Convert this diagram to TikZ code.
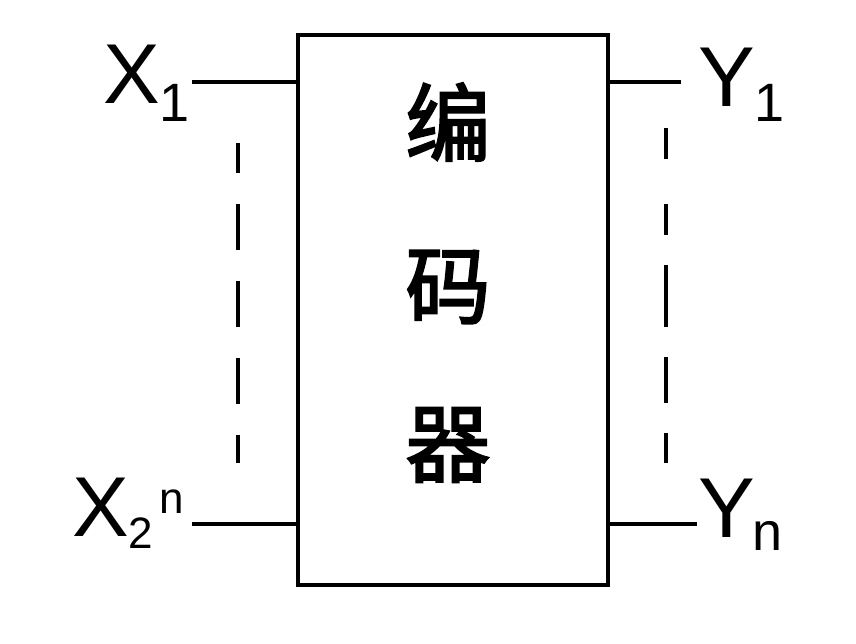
\documentclass[tikz,border=0pt]{standalone}
\usepackage{fontspec}
\setmainfont{Liberation Sans}
\newfontfamily\cjk[FakeBold=2.5]{Noto Sans CJK SC}
\usetikzlibrary{positioning}
\newcommand{\idx}[3]{\raisebox{#1}{\fontsize{#2}{#2}\selectfont #3}}

\begin{document}
\begin{tikzpicture}[x=1pt,y=-1pt,wire/.style={line width=4pt},lbl/.style={anchor=base west,inner sep=0pt,font=\fontsize{85}{85}\selectfont},hz/.style={inner sep=0pt,font=\cjk\fontsize{85}{85}\selectfont}]
\useasboundingbox (0,0) rectangle (856,644);
\node[draw,line width=4pt,minimum width=310pt,minimum height=550pt,inner sep=0pt] (enc) at (453,310) {};
\node[hz] (c1) at (448,122) {编};
\node[hz] (c2) at (448,287) {码};
\node[hz] (c3) at (448,445) {器};
\node[lbl] (x1) at (103,104) {X\kern0pt\idx{-18pt}{54}{1}};
\node[lbl] (y1) at (698,107) {Y\kern0pt\idx{-15pt}{54}{1}};
\node[lbl] (x2n) at (72,536) {X\kern0pt\idx{-12pt}{44}{2}\kern6pt\idx{23pt}{44}{n}};
\node[lbl] (yn) at (698,537) {Y\kern-2pt\idx{-13pt}{54}{n}};
\coordinate (x1e) at (192,82);
\coordinate (x2e) at (192,524);
\coordinate (y1e) at (681,82);
\coordinate (yne) at (697,524);
\draw[wire] (x1e)--(x1e -| enc.west);\draw[wire] (x2e)--(x2e -| enc.west);
\draw[wire] (y1e)--(y1e -| enc.east);\draw[wire] (yne)--(yne -| enc.east);
% dashed marks between the inputs and between the outputs
\draw[wire,dash pattern=on 46pt off 31pt,dash phase=16pt] (238,143)--(238,463);
\draw[wire,dash pattern=on 31pt off 45pt on 31pt off 30pt on 62pt off 30pt on 46pt off 30pt] (666,128)--(666,463);
\end{tikzpicture}
\end{document}
